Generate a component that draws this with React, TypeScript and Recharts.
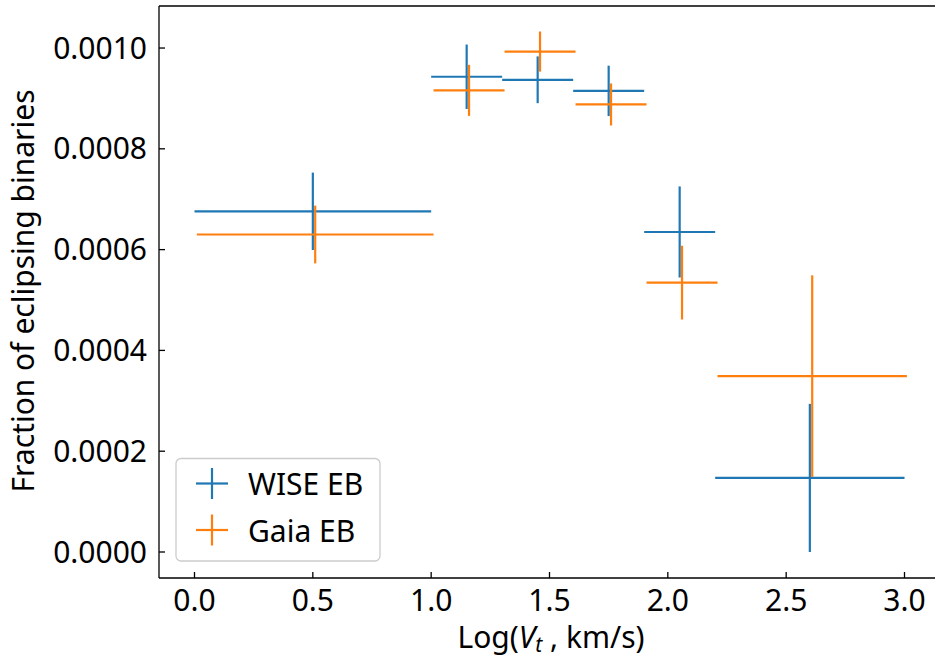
import { ScatterChart, Scatter, XAxis, YAxis, ErrorBar } from "recharts";

// bin centres on Log(Vt); Gaia is nudged right by 0.01 so the crosses do not sit on top of each other
const wiseX = [0.5, 1.15, 1.45, 1.75, 2.05, 2.6];
const gaiaX = [0.51, 1.16, 1.46, 1.76, 2.06, 2.61];
const binHalfWidth = [0.5, 0.15, 0.15, 0.15, 0.15, 0.4];

const wiseFrac = [0.000676, 0.000943, 0.000937, 0.000915, 0.000635, 0.000147];
const wiseErr = [0.0000768, 0.0000639, 0.0000464, 0.00005, 0.0000904, 0.000147];

const gaiaFrac = [0.00063, 0.000916, 0.000993, 0.000888, 0.0005345, 0.000349];
const gaiaErr = [0.0000573, 0.0000507, 0.0000398, 0.0000417, 0.0000732, 0.0002];

const xTicks = [0, 0.5, 1, 1.5, 2, 2.5, 3];
const yTicks = [0, 0.0002, 0.0004, 0.0006, 0.0008, 0.001];

const BLUE = "#1f77b4";
const ORANGE = "#ff7f0e";
const FONT = "'Noto Sans', 'Open Sans', sans-serif";

const toRows = (xs: number[], ys: number[], errs: number[]) =>
  xs.map((x, i) => ({ x, y: ys[i], xerr: binHalfWidth[i], yerr: errs[i] }));

const wiseData = toRows(wiseX, wiseFrac, wiseErr);
const gaiaData = toRows(gaiaX, gaiaFrac, gaiaErr);

const X_DOMAIN: [number, number] = [-0.15, 3.15];
const Y_DOMAIN: [number, number] = [-0.0000516, 0.0010834];

const tickStyle = { fill: "#000", fontSize: 30, fontFamily: FONT };
const spine = { stroke: "#000", strokeWidth: 1.3 };

const noMarker = () => <g />;

const LegendCross = ({ cx, cy, color }: { cx: number; cy: number; color: string }) => (
  <g stroke={color} strokeWidth={2.2}>
    <line x1={cx - 16} x2={cx + 16} y1={cy} y2={cy} />
    <line x1={cx} x2={cx} y1={cy - 15.5} y2={cy + 15.5} />
  </g>
);

export default function App() {
  return (
    <div
      style={{
        position: "absolute",
        left: 0,
        top: 0,
        width: 935,
        height: 658,
        overflow: "hidden",
        background: "#fff",
      }}
    >
      <ScatterChart width={950} height={658} margin={{ top: 0, right: 0, bottom: 0, left: 0 }}>
        <XAxis
          dataKey="x"
          type="number"
          domain={X_DOMAIN}
          allowDataOverflow
          ticks={xTicks}
          interval={0}
          tickFormatter={(v: number) => v.toFixed(1)}
          height={80}
          tickSize={-6}
          tickMargin={18}
          tick={tickStyle}
          axisLine={spine}
          tickLine={spine}
        />
        <XAxis
          xAxisId="top"
          orientation="top"
          type="number"
          domain={X_DOMAIN}
          allowDataOverflow
          ticks={xTicks}
          interval={0}
          height={6}
          tickSize={-6}
          tick={false}
          axisLine={spine}
          tickLine={spine}
        />
        <YAxis
          dataKey="y"
          type="number"
          domain={Y_DOMAIN}
          allowDataOverflow
          ticks={yTicks}
          interval={0}
          tickFormatter={(v: number) => v.toFixed(4)}
          width={159}
          tickSize={-6}
          tickMargin={18}
          tick={tickStyle}
          axisLine={spine}
          tickLine={spine}
        />
        <YAxis
          yAxisId="right"
          orientation="right"
          type="number"
          domain={Y_DOMAIN}
          allowDataOverflow
          ticks={yTicks}
          interval={0}
          width={10}
          tickSize={-6}
          tick={false}
          axisLine={spine}
          tickLine={spine}
        />
        <Scatter name="WISE EB" data={wiseData} shape={noMarker} isAnimationActive={false}>
          <ErrorBar dataKey="xerr" direction="x" width={0} stroke={BLUE} strokeWidth={2.2} isAnimationActive={false} />
          <ErrorBar dataKey="yerr" direction="y" width={0} stroke={BLUE} strokeWidth={2.2} isAnimationActive={false} />
        </Scatter>
        <Scatter name="Gaia EB" data={gaiaData} shape={noMarker} isAnimationActive={false}>
          <ErrorBar dataKey="xerr" direction="x" width={0} stroke={ORANGE} strokeWidth={2.2} isAnimationActive={false} />
          <ErrorBar dataKey="yerr" direction="y" width={0} stroke={ORANGE} strokeWidth={2.2} isAnimationActive={false} />
        </Scatter>
      </ScatterChart>

      {/* axis titles and legend drawn over the chart */}
      <svg
        width={935}
        height={658}
        style={{ position: "absolute", left: 0, top: 0, pointerEvents: "none" }}
        fontFamily={FONT}
      >
        <text x={551} y={648} textAnchor="middle" fontSize={30} fill="#000">
          Log(
          <tspan fontStyle="italic">V</tspan>
          <tspan fontStyle="italic" fontSize={21} dy={4}>t</tspan>
          <tspan dy={-4}> , km/s)</tspan>
        </text>
        <text
          x={0}
          y={0}
          transform="translate(34, 291) rotate(-90)"
          textAnchor="middle"
          fontSize={30}
          fill="#000"
        >
          Fraction of eclipsing binaries
        </text>

        <rect x={176} y={458.5} width={204} height={102.5} rx={5} fill="#fff" fillOpacity={0.8} stroke="#ccc" strokeWidth={1.3} />
        <LegendCross cx={212} cy={483.5} color={BLUE} />
        <LegendCross cx={212} cy={530} color={ORANGE} />
        <text x={248} y={495} fontSize={30} fill="#000">WISE EB</text>
        <text x={248} y={541.5} fontSize={30} fill="#000">Gaia EB</text>
      </svg>
    </div>
  );
}
